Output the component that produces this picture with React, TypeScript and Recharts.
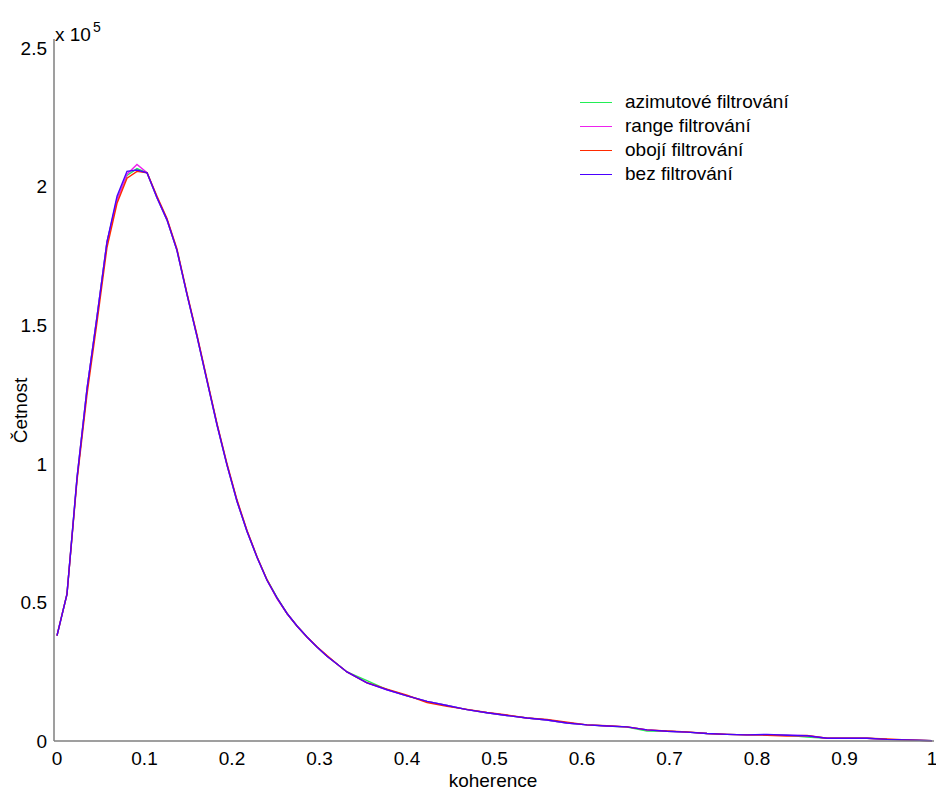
import React from 'react';
import { LineChart, Line, XAxis, YAxis } from 'recharts';

const FONT = '"Liberation Sans", Arial, sans-serif';

// koherence (bin centres)
const koherence = [
  0, 0.0114, 0.0229, 0.0343, 0.0457, 0.0571, 0.0686, 0.08, 0.0914, 0.1029,
  0.1143, 0.1257, 0.1371, 0.1486, 0.16, 0.1714, 0.1829, 0.1943, 0.2057, 0.2171,
  0.2286, 0.24, 0.2514, 0.2629, 0.2743, 0.2857, 0.2971, 0.3086, 0.32, 0.3314,
  0.3543, 0.3771, 0.4, 0.4229, 0.4457, 0.4686, 0.4914, 0.5143, 0.5371, 0.56,
  0.5829, 0.6057, 0.6286, 0.6514, 0.6743, 0.6971, 0.72, 0.7429, 0.7657, 0.7886,
  0.8114, 0.8343, 0.8571, 0.88, 0.9029, 0.9257, 0.9486, 0.9714, 1,
];

const azimutove = [
  38000, 53000, 95000, 127000, 153000, 180000, 195500, 204000, 206500, 205000,
  196000, 188000, 177000, 161000, 146000, 130000, 114000, 99500, 86500, 75700,
  66300, 58200, 51800, 46000, 41500, 37500, 33900, 30600, 27800, 24900,
  21800, 18500, 16300, 14300, 12800, 11300, 10200, 9200, 8300, 7600,
  6500, 5800, 5400, 5000, 3600, 3500, 3200, 2700, 2400, 2200,
  2300, 2100, 1400, 970, 970, 970, 600, 400, 100,
];

const range = [
  38000, 53000, 95000, 127000, 153000, 180000, 195000, 204500, 208000, 205000,
  196000, 188000, 177000, 161000, 146000, 130000, 114000, 99500, 86500, 75700,
  66300, 58000, 51400, 46000, 41500, 37500, 33900, 30600, 27800, 24900,
  21000, 18500, 16300, 14300, 12800, 11300, 10200, 9200, 8300, 7600,
  6500, 5800, 5400, 5100, 4000, 3500, 3200, 2700, 2400, 2200,
  2300, 2100, 1900, 970, 970, 970, 600, 400, 100,
];

const oboji = [
  38000, 53000, 94000, 125000, 151000, 178000, 194000, 203000, 205500, 205000,
  196500, 188500, 177500, 161500, 146500, 130500, 114500, 100000, 87000, 76000,
  66500, 58200, 51600, 46000, 41500, 37500, 34000, 30800, 27800, 24900,
  21000, 18700, 16500, 13900, 12500, 11400, 10300, 9400, 8300, 7800,
  6800, 5800, 5500, 5100, 4000, 3600, 3300, 2700, 2400, 2200,
  2100, 1800, 2000, 970, 970, 970, 700, 400, 100,
];

const bez = [
  38000, 53000, 95000, 127000, 153000, 180000, 196500, 205500, 206000, 205000,
  196000, 188000, 177000, 161000, 146000, 130000, 114000, 99500, 86500, 75700,
  66300, 58000, 51600, 46000, 41500, 37500, 33900, 30600, 27800, 24900,
  21000, 18500, 16300, 14300, 12800, 11300, 10200, 9200, 8300, 7600,
  6500, 5800, 5400, 5100, 4000, 3500, 3200, 2700, 2400, 2200,
  2400, 2100, 1900, 970, 970, 970, 600, 400, 100,
];

const xTicks = [0, 0.1, 0.2, 0.3, 0.4, 0.5, 0.6, 0.7, 0.8, 0.9, 1];
const yTicks = [0, 50000, 100000, 150000, 200000, 250000];

const SERIES = [
  { key: 'azimutove', name: 'azimutové filtrování', color: '#22ee55' },
  { key: 'range', name: 'range filtrování', color: '#ee22ee' },
  { key: 'oboji', name: 'obojí filtrování', color: '#ff2a00' },
  { key: 'bez', name: 'bez filtrování', color: '#4a00ff' },
];

const data = koherence.map((x, i) => ({
  x,
  azimutove: azimutove[i],
  range: range[i],
  oboji: oboji[i],
  bez: bez[i],
}));

const fmtX = (v: number) => (v === 0 ? '0' : v === 1 ? '1' : String(v));
const fmtY = (v: number) => String(v / 100000);

const FS = 19;
const tickStyle = { fill: '#000', fontSize: FS, fontFamily: FONT };

export default function App() {
  return (
    <div style={{ position: 'absolute', left: 0, top: 0, width: 936, height: 792, background: '#fff', fontFamily: FONT }}>
      <LineChart width={936} height={792} data={data} margin={{ top: 39, right: 2, left: 0, bottom: 21 }}>
        <XAxis
          dataKey="x"
          type="number"
          domain={[-0.00343, 1.00229]}
          ticks={xTicks}
          interval={0}
          tickFormatter={fmtX}
          tick={tickStyle}
          tickLine={false}
          tickSize={0}
          tickMargin={11}
          height={30}
          stroke="#7f7f7f"
          axisLine={{ stroke: '#7f7f7f', strokeWidth: 1.5 }}
        />
        <YAxis
          type="number"
          domain={[0, 253250]}
          ticks={yTicks}
          interval={0}
          tickFormatter={fmtY}
          tick={tickStyle}
          tickLine={false}
          tickSize={0}
          tickMargin={7}
          width={54}
          axisLine={{ stroke: '#7f7f7f', strokeWidth: 1.5 }}
        />
        {SERIES.map(s => (
          <Line
            key={s.key}
            dataKey={s.key}
            name={s.name}
            stroke={s.color}
            strokeWidth={1.4}
            dot={false}
            type="linear"
            isAnimationActive={false}
          />
        ))}
      </LineChart>

      <div style={{ position: 'absolute', left: 55, top: 25, fontSize: FS, lineHeight: '19px', whiteSpace: 'nowrap' }}>
        x 10
        <span style={{ fontSize: 14, position: 'relative', top: -9, marginLeft: 2 }}>5</span>
      </div>

      <div style={{ position: 'absolute', left: 433, top: 771, width: 120, textAlign: 'center', fontSize: FS, lineHeight: '19px' }}>
        koherence
      </div>

      <div
        style={{
          position: 'absolute', left: -40, top: 401, width: 120, textAlign: 'center',
          fontSize: FS, lineHeight: '19px', transform: 'rotate(-90deg)',
        }}
      >
        Četnost
      </div>

      <div style={{ position: 'absolute', left: 580, top: 90 }}>
        {SERIES.map(s => (
          <div key={s.key} style={{ display: 'flex', alignItems: 'center', height: 24, fontSize: FS }}>
            <div style={{ width: 32, height: 0, borderTop: `1.5px solid ${s.color}`, marginRight: 13 }} />
            <span>{s.name}</span>
          </div>
        ))}
      </div>
    </div>
  );
}
